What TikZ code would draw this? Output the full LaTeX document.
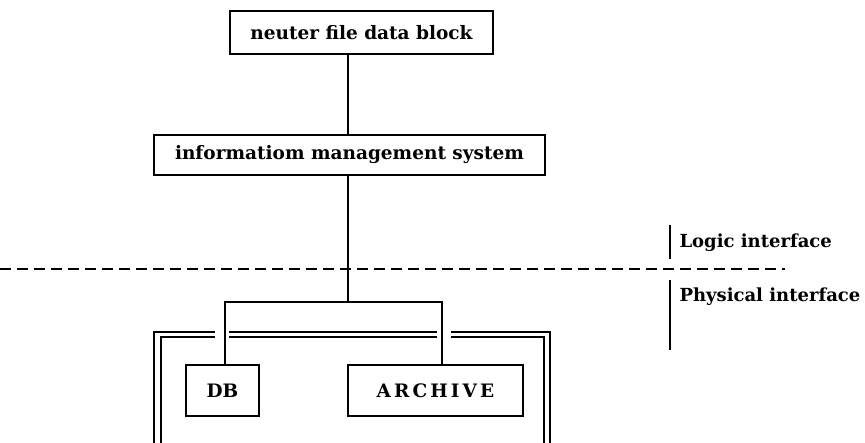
\documentclass[tikz,border=0pt]{standalone}
\usepackage{fontspec}
\setmainfont{DejaVu Serif}

\begin{document}
\begin{tikzpicture}[x=1pt,y=-1pt,line width=1.1pt,
                    box/.style={draw,inner sep=0pt,font=\fontsize{18.5}{20}\selectfont\bfseries},
                    lbl/.style={anchor=west,inner sep=0pt,font=\fontsize{18}{20}\selectfont\bfseries}]
                  \useasboundingbox (0,0) rectangle (865,443);

                  \node[box, minimum width=263pt, minimum height=43pt] (nfdb) at (361.5,32.5)  {neuter file data block};
                  \node[box, minimum width=391pt, minimum height=40pt] (ims)  at (349.5,155)   {informatiom management system};
                  \node[box, minimum width=73pt,  minimum height=51pt] (db)   at (222.5,390.5) {DB};
                  \node[box, minimum width=175pt, minimum height=51pt] (arc)  at (435.5,390.5) {A\,R\,C\,H\,I\,V\,E};

                  \coordinate (trunk) at (348,302);
                  \coordinate (dbtap) at (225,302);
                  \coordinate (arctap) at (442,302);

                      \draw (nfdb.south -| trunk) -- (ims.north -| trunk)
                            (ims.south -| trunk) -- (trunk)
                            (db.north -| dbtap) -- (dbtap) -- (arctap) -- (arc.north -| arctap);

                      % double frame round the stores
                      \draw (154,443) -- (154,332) -- (215,332)
                            (229,332) -- (437,332)
                            (451,332) -- (550,332) -- (550,443);
                      \draw (161,443) -- (161,337) -- (215,337)
                            (229,337) -- (437,337)
                            (451,337) -- (544,337) -- (544,443);

                      \draw[dash pattern=on 11pt off 6pt] (0,269) -- (785,269);

                  \coordinate (lt) at (670,225);
                  \coordinate (lb) at (670,259);
                  \coordinate (pt) at (670,280);
                  \coordinate (pb) at (670,350);
                      \draw (lt) -- (lb) (pt) -- (pb);

                  \node[lbl] (logic) at (679,243) {Logic interface};
                  \node[lbl] (phys)  at (679,297) {Physical interface};
        \end{tikzpicture}
\end{document}
